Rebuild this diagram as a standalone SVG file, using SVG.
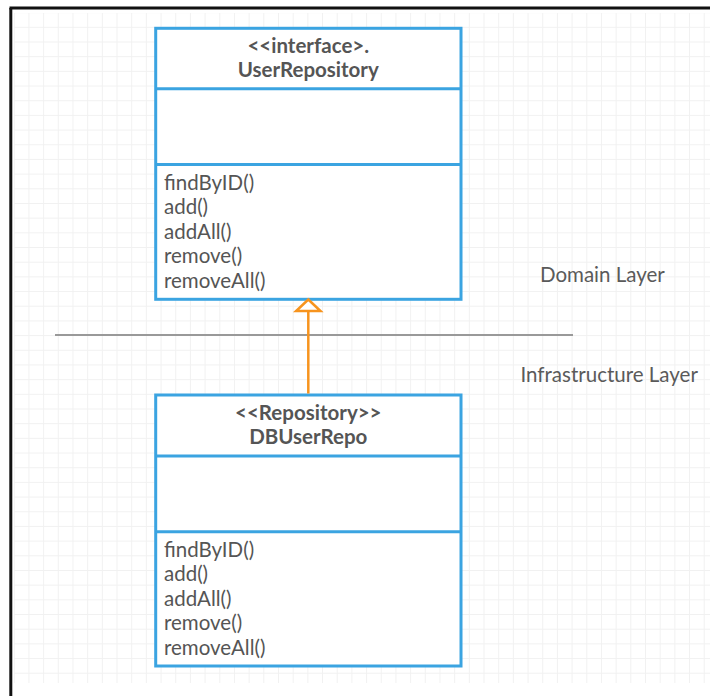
<svg xmlns="http://www.w3.org/2000/svg" width="710" height="696" viewBox="0 0 710 696">
  <style>
    .box { fill: #ffffff; stroke: #3ba4e1; stroke-width: 3; }
    .div { stroke: #3ba4e1; stroke-width: 3; }
    .hdr { font-family: Lato, "Liberation Sans", sans-serif; font-size: 20.5px; font-weight: bold; fill: #555555; text-anchor: middle; }
    .mth { font-family: Lato, "Liberation Sans", sans-serif; font-size: 20.5px; fill: #555555; }
    .lbl { font-family: Lato, "Liberation Sans", sans-serif; font-size: 20.5px; fill: #5a5a5a; }
  </style>
  <defs>
    <pattern id="grid" patternUnits="userSpaceOnUse" x="57.8" y="41.5" width="14.68" height="14.68">
      <rect x="0" y="0" width="1" height="14.68" fill="#f1f1f1"/>
      <rect x="0" y="0" width="14.68" height="1" fill="#f1f1f1"/>
    </pattern>
  </defs>
  <rect x="0" y="0" width="710" height="696" fill="#ffffff"/>
  <rect x="14" y="13" width="696" height="670" fill="url(#grid)"/>
  <g id="frame">
    <line x1="9.5" y1="8" x2="710" y2="8" stroke="#111111" stroke-width="3"/>
    <line x1="10.8" y1="8" x2="10.8" y2="696" stroke="#111111" stroke-width="3"/>
  </g>
  <g id="layer-divider">
    <line x1="55" y1="335" x2="573" y2="335" stroke="#999999" stroke-width="2"/>
  </g>
  <g id="UserRepository">
    <rect class="box" x="155.7" y="28.3" width="305.3" height="271"/>
    <line class="div" x1="155.7" y1="88.7" x2="461" y2="88.7"/>
    <line class="div" x1="155.7" y1="164.5" x2="461" y2="164.5"/>
    <text class="hdr" x="308.3" y="52.5">&lt;&lt;interface&gt;.</text>
    <text class="hdr" x="308.3" y="76.5">UserRepository</text>
    <text class="mth" x="164" y="189.5">findByID()</text>
    <text class="mth" x="164" y="214">add()</text>
    <text class="mth" x="164" y="238.5">addAll()</text>
    <text class="mth" x="164" y="263">remove()</text>
    <text class="mth" x="164" y="287.5">removeAll()</text>
  </g>
  <g id="DBUserRepo">
    <rect class="box" x="155.7" y="395" width="305.3" height="271"/>
    <line class="div" x1="155.7" y1="456" x2="461" y2="456"/>
    <line class="div" x1="155.7" y1="531.7" x2="461" y2="531.7"/>
    <text class="hdr" x="308.3" y="419.5">&lt;&lt;Repository&gt;&gt;</text>
    <text class="hdr" x="308.3" y="443.5">DBUserRepo</text>
    <text class="mth" x="164" y="556.5">findByID()</text>
    <text class="mth" x="164" y="581">add()</text>
    <text class="mth" x="164" y="605.5">addAll()</text>
    <text class="mth" x="164" y="630">remove()</text>
    <text class="mth" x="164" y="654.5">removeAll()</text>
  </g>
  <g id="layer-labels">
    <text class="lbl" x="540" y="281.5">Domain Layer</text>
    <text class="lbl" x="520.5" y="382.3">Infrastructure Layer</text>
  </g>
  <g id="connectors">
    <line x1="308.3" y1="393.5" x2="308.3" y2="311" stroke="#f7941e" stroke-width="2.5"/>
    <polygon points="308.3,299.5 320.5,311 296.1,311" fill="#ffffff" stroke="#f7941e" stroke-width="2.5" stroke-linejoin="miter"/>
  </g>
</svg>
